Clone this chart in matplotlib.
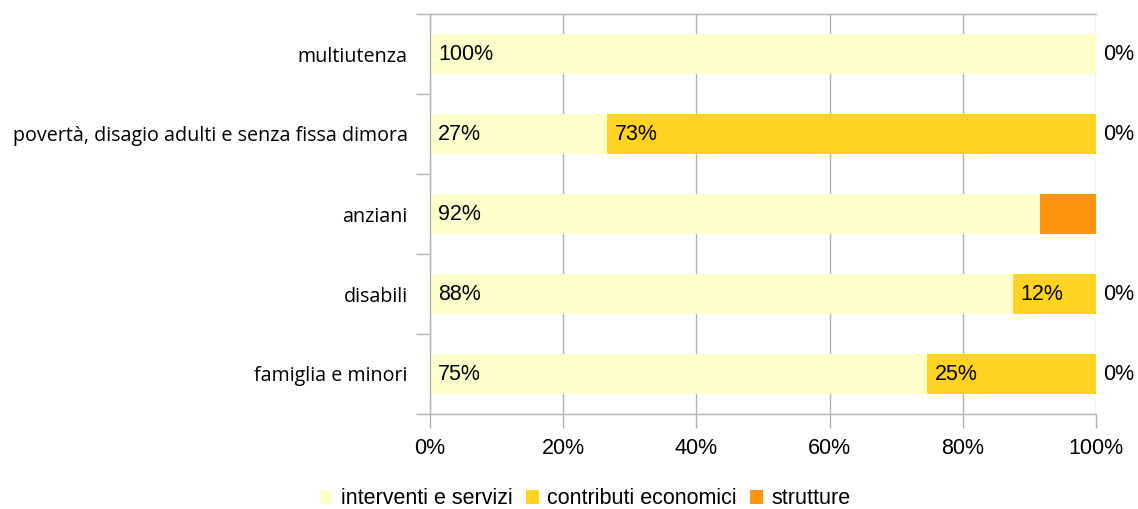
import matplotlib
matplotlib.use("Agg")
import matplotlib.pyplot as plt
import numpy as np

# data, bottom row first
categories = ["famiglia e minori", "disabili", "anziani",
              "povertà, disagio adulti e senza fissa dimora", "multiutenza"]
interventi = [74.6, 87.5, 91.6, 26.6, 100.0]
contributi = [25.4, 12.5, 0.0, 73.4, 0.0]
strutture = [0.0, 0.0, 8.4, 0.0, 0.0]

interventi_labels = ["75%", "88%", "92%", "27%", "100%"]
contributi_labels = ["25%", "12%", "", "73%", ""]
strutture_labels = ["0%", "0%", "", "0%", "0%"]

series_names = ["interventi e servizi", "contributi economici", "strutture"]
colors = ["#FFFFCC", "#FFD320", "#FF950E"]
grid_col = "#B3B3B3"

fig = plt.figure(figsize=(11.38, 5.09), dpi=100)
ax = fig.add_axes([430 / 1138, 1 - 414 / 509, 666 / 1138, 400 / 509])

y = np.arange(len(categories))
h = 0.5
left = np.zeros(len(categories))
for vals, col, name in zip([interventi, contributi, strutture], colors, series_names):
    ax.barh(y, vals, left=left, height=h, color=col, label=name, zorder=2)
    left = left + np.array(vals)

# data labels
lab_font = dict(family="Liberation Sans", fontsize=15.5, va="center", color="black")
for i in range(len(categories)):
    if interventi_labels[i]:
        ax.text(1.2, y[i], interventi_labels[i], **lab_font)
    if contributi_labels[i]:
        ax.text(interventi[i] + 1.2, y[i], contributi_labels[i], **lab_font)
    if strutture_labels[i]:
        ax.text(101.0, y[i], strutture_labels[i], clip_on=False, **lab_font)

ax.set_xlim(0, 100)
ax.set_ylim(-0.5, len(categories) - 0.5)
ax.set_xticks(np.arange(0, 101, 20))
ax.set_xticklabels([f"{v}%" for v in range(0, 101, 20)],
                   family="Liberation Sans", fontsize=15.5)
ax.xaxis.grid(True, color=grid_col, linewidth=1.0, zorder=0)
ax.set_axisbelow(True)

# category ticks sit on the boundaries
ax.set_yticks(np.arange(-0.5, len(categories), 1.0))
ax.set_yticklabels([])
ax.set_yticks(y, minor=True)
ax.set_yticklabels(categories, minor=True, family="Open Sans", fontsize=14.2)
ax.tick_params(axis="y", which="minor", length=0, pad=16)
ax.tick_params(axis="y", which="major", length=10, color=grid_col, width=1.0)
ax.tick_params(axis="x", length=10, color=grid_col, width=1.0, pad=7)

for s in ax.spines.values():
    s.set_color(grid_col)
    s.set_linewidth(1.0)
ax.spines["right"].set_visible(False)

fig.legend(loc="center", bbox_to_anchor=(585 / 1138, 1 - 499 / 509), ncol=3,
           frameon=False, handlelength=0.6, handleheight=0.6, handletextpad=0.4,
           columnspacing=0.6, prop=dict(family="Liberation Sans", size=15.5))

fig.savefig("out.png", dpi=100)
